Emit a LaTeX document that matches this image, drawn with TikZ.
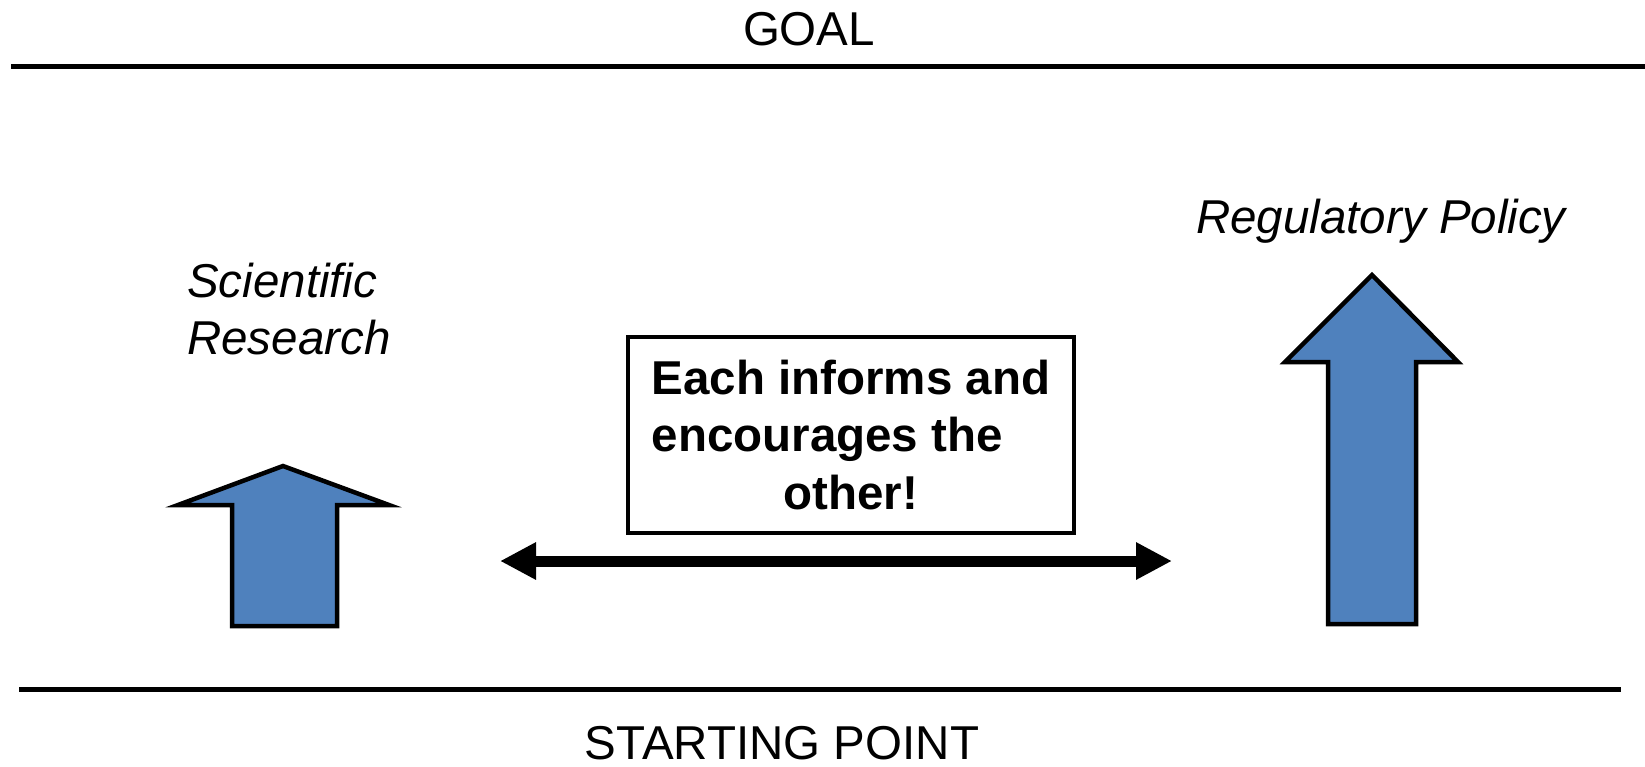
\documentclass[tikz,border=0pt]{standalone}
\usepackage{fontspec}
\setmainfont{Liberation Sans}
\usetikzlibrary{arrows.meta}
\definecolor{stepblue}{RGB}{79,129,189}
\tikzstyle{levelline} = [line width=5pt]
\tikzstyle{caption} = [
	font=\fontsize{47.5}{57}\selectfont,
	inner sep=0pt
]
\tikzstyle{fieldname} = [
	caption,
	font=\fontsize{47.5}{57}\selectfont\itshape,
	align=left
]
\tikzstyle{upstep} = [
	draw=black,
	line width=4.5pt,
	fill=stepblue,
	line join=miter
]
\tikzstyle{infobox} = [
	rectangle,
	draw=black,
	line width=4pt,
	minimum width=446pt,
	minimum height=196pt,
	inner sep=0pt,
	align=center,
	font=\fontsize{47.5}{57.5}\selectfont\bfseries
]
\tikzstyle{mutual} = [line width=11pt, {Triangle[length=36pt,width=35pt]}-{Triangle[length=36pt,width=35pt]}]

\begin{document}
\begin{tikzpicture}[x=1pt, y=-1pt]
            \useasboundingbox (0,0) rectangle (1645,766);
            \node (goal) [caption, anchor=base] at (809,45) {GOAL};
            \node (start) [caption, anchor=base] at (782,759) {STARTING POINT};
            \coordinate (goalL) at (11,66);
            \coordinate (goalR) at (1645,66);
            \coordinate (startL) at (19,689);
            \coordinate (startR) at (1621,689);
            \draw [levelline] (goalL) -- (goalR);
            \draw [levelline] (startL) -- (startR);
            \draw [upstep] (232,626) -- (232,505) -- (178,505) -- (283,466) -- (389,505) -- (337,505) -- (337,626) -- cycle;
            \draw [upstep] (1328,624) -- (1328,362) -- (1285,362) -- (1372,275) -- (1458,362) -- (1416,362) -- (1416,624) -- cycle;
            \node (science) [fieldname, anchor=base west] at (187,354) {Scientific\\Research};
            \node (policy) [fieldname, anchor=base west] at (1196,233) {Regulatory Policy};
            \node (inform) [infobox] at (851,435) {Each informs and\\encourages the\hbox to 1em{}\\other!};
            \coordinate (researchend) at (500,561);
            \coordinate (policyend) at (1172,561);
            \draw [mutual] (researchend) -- (policyend);
          \end{tikzpicture}
\end{document}
